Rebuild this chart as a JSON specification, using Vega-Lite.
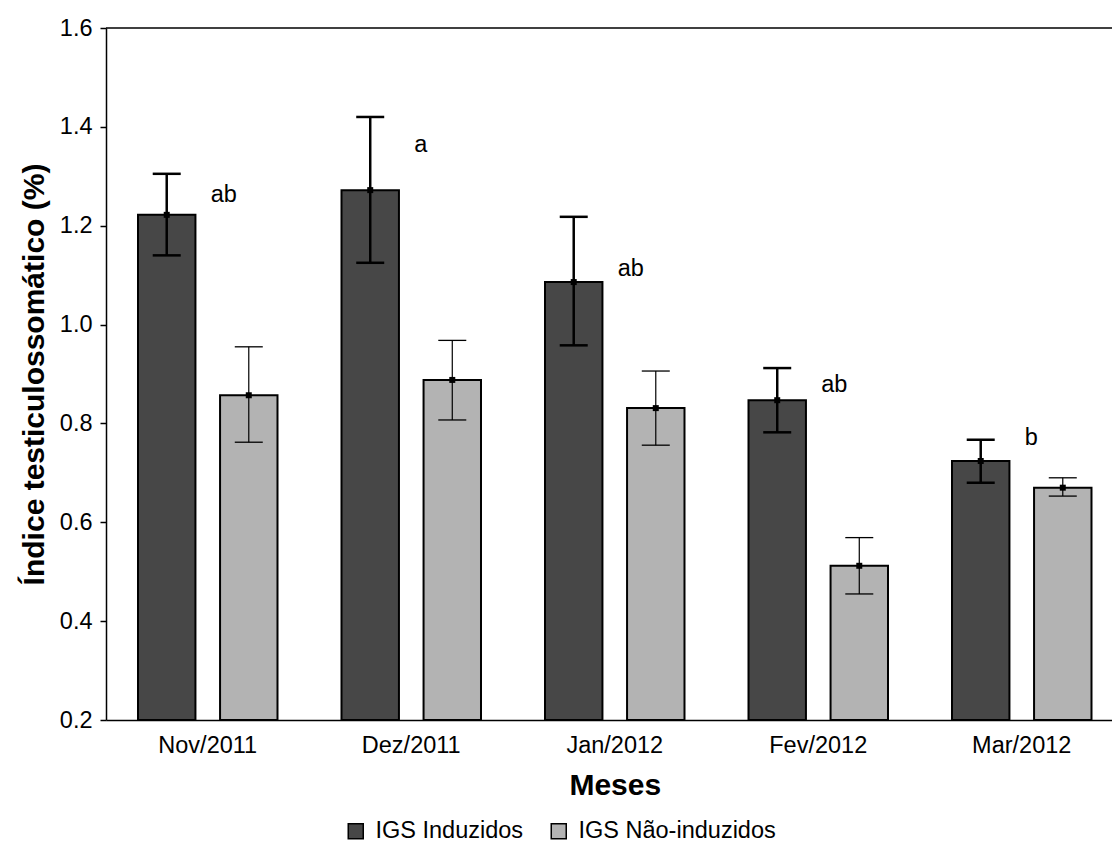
{
  "$schema": "https://vega.github.io/schema/vega-lite/v6.json",
  "width": 1006,
  "height": 692,
  "autosize": {"type": "none"},
  "padding": {"left": 106, "top": 28, "right": 0, "bottom": 128},
  "background": "white",
  "config": {
    "font": "Liberation Sans",
    "view": {"stroke": null},
    "axis": {"labelFont": "Liberation Sans", "titleFont": "Liberation Sans", "labelColor": "black", "titleColor": "black", "domainColor": "black", "tickColor": "black", "grid": false, "domainWidth": 1.5, "tickWidth": 1.5}
  },
  "datasets": {
    "bars": [
      {"mes": "Nov/2011", "grupo": "IGS Induzidos", "valor": 1.222, "lo": 1.14, "hi": 1.305},
      {"mes": "Nov/2011", "grupo": "IGS Não-induzidos", "valor": 0.857, "lo": 0.762, "hi": 0.955},
      {"mes": "Dez/2011", "grupo": "IGS Induzidos", "valor": 1.272, "lo": 1.125, "hi": 1.42},
      {"mes": "Dez/2011", "grupo": "IGS Não-induzidos", "valor": 0.888, "lo": 0.807, "hi": 0.968},
      {"mes": "Jan/2012", "grupo": "IGS Induzidos", "valor": 1.086, "lo": 0.958, "hi": 1.218},
      {"mes": "Jan/2012", "grupo": "IGS Não-induzidos", "valor": 0.831, "lo": 0.756, "hi": 0.906},
      {"mes": "Fev/2012", "grupo": "IGS Induzidos", "valor": 0.847, "lo": 0.782, "hi": 0.912},
      {"mes": "Fev/2012", "grupo": "IGS Não-induzidos", "valor": 0.512, "lo": 0.455, "hi": 0.569},
      {"mes": "Mar/2012", "grupo": "IGS Induzidos", "valor": 0.724, "lo": 0.68, "hi": 0.767},
      {"mes": "Mar/2012", "grupo": "IGS Não-induzidos", "valor": 0.67, "lo": 0.653, "hi": 0.69}
    ],
    "letras": [
      {"mes": "Nov/2011", "letra": "ab", "pos": 1.248},
      {"mes": "Dez/2011", "letra": "a", "pos": 1.35},
      {"mes": "Jan/2012", "letra": "ab", "pos": 1.098},
      {"mes": "Fev/2012", "letra": "ab", "pos": 0.864},
      {"mes": "Mar/2012", "letra": "b", "pos": 0.756}
    ],
    "topo": [{"v": 1.6}]
  },
  "layer": [
    {
      "data": {"name": "bars"},
      "mark": {"type": "bar", "stroke": "black", "strokeWidth": 2},
      "encoding": {
        "x": {"field": "mes", "type": "nominal", "sort": ["Nov/2011", "Dez/2011", "Jan/2012", "Fev/2012", "Mar/2012"],
          "scale": {"range": [0, 1017.5], "paddingInner": 0, "paddingOuter": 0},
          "axis": {"title": "Meses", "titleFontSize": 30, "titleFontWeight": "bold", "titlePadding": 14, "labelFontSize": 23.5, "labelAngle": 0, "ticks": false, "labelPadding": 13}},
        "xOffset": {"field": "grupo", "type": "nominal", "sort": ["IGS Induzidos", "IGS Não-induzidos"], "scale": {"paddingInner": 0.3, "paddingOuter": 0.39}},
        "y": {"field": "valor", "type": "quantitative",
          "scale": {"domain": [0.2, 1.6], "nice": false, "zero": false},
          "axis": {"title": "Índice testiculossomático (%)", "titleFontSize": 30, "titleFontWeight": "bold", "titlePadding": 10, "labelFontSize": 23.5, "values": [0.2, 0.4, 0.6, 0.8, 1.0, 1.2, 1.4, 1.6], "format": ".1f", "tickSize": 6, "labelPadding": 8}},
        "y2": {"datum": 0.2},
        "fill": {"field": "grupo", "type": "nominal", "sort": ["IGS Induzidos", "IGS Não-induzidos"],
          "scale": {"range": ["#474747", "#b3b3b3"]},
          "legend": {"title": null, "orient": "none", "legendX": 238, "legendY": 791, "direction": "horizontal", "symbolType": "square", "symbolSize": 225, "symbolStrokeColor": "black", "symbolStrokeWidth": 1.5, "labelFontSize": 23.5, "labelColor": "black", "labelLimit": 500, "columnPadding": 23, "labelOffset": 8}}
      }
    },
    {
      "data": {"name": "bars"},
      "mark": {"type": "rule", "color": "black"},
      "encoding": {
        "x": {"field": "mes", "type": "nominal", "sort": ["Nov/2011", "Dez/2011", "Jan/2012", "Fev/2012", "Mar/2012"]},
        "xOffset": {"field": "grupo", "type": "nominal", "sort": ["IGS Induzidos", "IGS Não-induzidos"]},
        "y": {"field": "lo", "type": "quantitative"},
        "y2": {"field": "hi"},
        "strokeWidth": {"field": "grupo", "type": "nominal", "scale": {"domain": ["IGS Induzidos", "IGS Não-induzidos"], "range": [2.5, 1.2]}, "legend": null}
      }
    },
    {
      "data": {"name": "bars"},
      "transform": [{"filter": "datum.grupo === 'IGS Induzidos'"}, {"fold": ["lo", "hi"], "as": ["k", "cap"]}],
      "mark": {"type": "tick", "color": "black", "size": 28, "thickness": 2.5, "opacity": 1},
      "encoding": {
        "x": {"field": "mes", "type": "nominal", "sort": ["Nov/2011", "Dez/2011", "Jan/2012", "Fev/2012", "Mar/2012"]},
        "xOffset": {"field": "grupo", "type": "nominal", "sort": ["IGS Induzidos", "IGS Não-induzidos"]},
        "y": {"field": "cap", "type": "quantitative"}
      }
    },
    {
      "data": {"name": "bars"},
      "transform": [{"filter": "datum.grupo === 'IGS Não-induzidos'"}, {"fold": ["lo", "hi"], "as": ["k", "cap"]}],
      "mark": {"type": "tick", "color": "black", "size": 28, "thickness": 1.3, "opacity": 1},
      "encoding": {
        "x": {"field": "mes", "type": "nominal", "sort": ["Nov/2011", "Dez/2011", "Jan/2012", "Fev/2012", "Mar/2012"]},
        "xOffset": {"field": "grupo", "type": "nominal", "sort": ["IGS Induzidos", "IGS Não-induzidos"]},
        "y": {"field": "cap", "type": "quantitative"}
      }
    },
    {
      "data": {"name": "bars"},
      "mark": {"type": "square", "color": "black", "filled": true, "size": 36, "opacity": 1},
      "encoding": {
        "x": {"field": "mes", "type": "nominal", "sort": ["Nov/2011", "Dez/2011", "Jan/2012", "Fev/2012", "Mar/2012"]},
        "xOffset": {"field": "grupo", "type": "nominal", "sort": ["IGS Induzidos", "IGS Não-induzidos"]},
        "y": {"field": "valor", "type": "quantitative"}
      }
    },
    {
      "data": {"name": "letras"},
      "mark": {"type": "text", "align": "left", "baseline": "alphabetic", "dx": 3, "fontSize": 23.5, "color": "black", "font": "Liberation Sans"},
      "encoding": {
        "x": {"field": "mes", "type": "nominal", "sort": ["Nov/2011", "Dez/2011", "Jan/2012", "Fev/2012", "Mar/2012"]},
        "y": {"field": "pos", "type": "quantitative"},
        "text": {"field": "letra"}
      }
    },
    {
      "data": {"name": "topo"},
      "mark": {"type": "rule", "color": "black", "strokeWidth": 1.5},
      "encoding": {"y": {"field": "v", "type": "quantitative"}}
    }
  ]
}
